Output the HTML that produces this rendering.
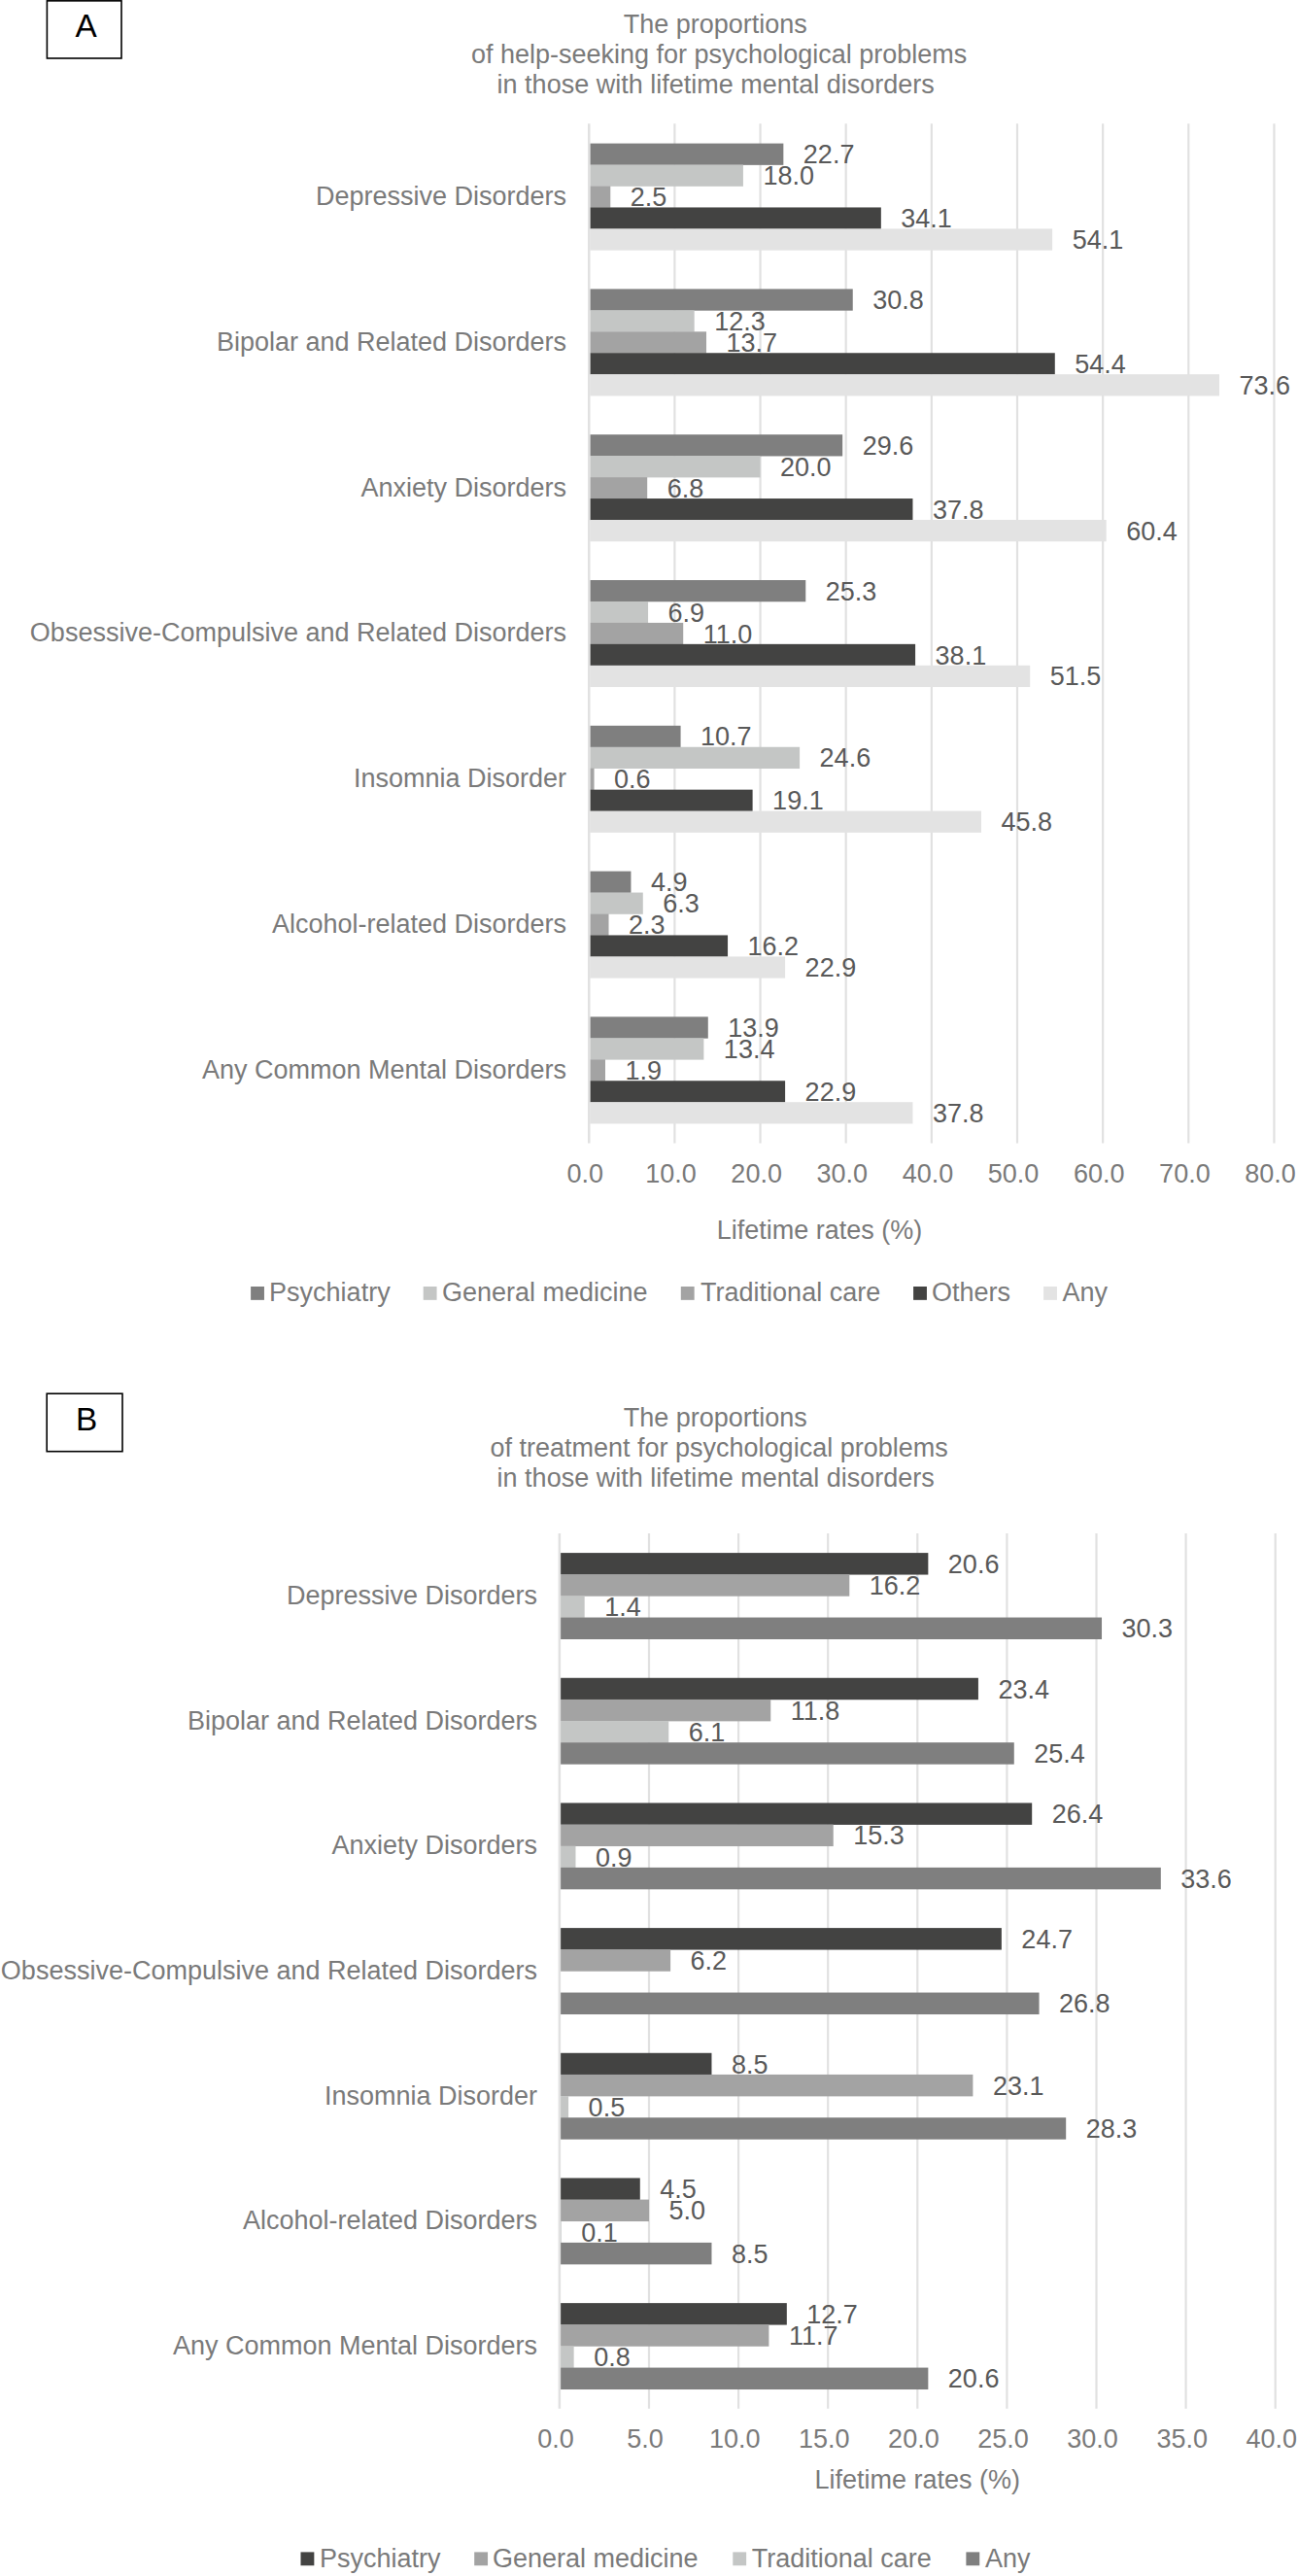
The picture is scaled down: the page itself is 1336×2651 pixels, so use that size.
<!DOCTYPE html>
<html lang="en">
<head>
<meta charset="utf-8">
<title>Help-seeking and treatment proportions</title>
<style>
html,body{margin:0;padding:0;background:#fff;}
body{width:1336px;height:2651px;overflow:hidden;}
svg{display:block;}
svg text{font-family:"Liberation Sans",sans-serif;font-size:27px;}
</style>
</head>
<body>
<svg width="1336" height="2651" viewBox="0 0 1336 2651">
<rect x="0" y="0" width="1336" height="2651" fill="#ffffff"/>
<rect x="48.4" y="0.85" width="76.6" height="59.15" fill="#fff" stroke="#000" stroke-width="1.6"/>
<text x="88.6" y="37.9" text-anchor="middle" fill="#000" style="font-size:33.33px">A</text>
<text x="736.3" y="34.2" text-anchor="middle" fill="#7a7a7a">The proportions</text>
<text x="740.1" y="65.2" text-anchor="middle" fill="#7a7a7a">of help-seeking for psychological problems</text>
<text x="736.7" y="96.2" text-anchor="middle" fill="#7a7a7a">in those with lifetime mental disorders</text>
<line x1="694.4" y1="127.3" x2="694.4" y2="1176.4" stroke="#e1e1e1" stroke-width="2.2"/>
<line x1="782.55" y1="127.3" x2="782.55" y2="1176.4" stroke="#e1e1e1" stroke-width="2.2"/>
<line x1="870.7" y1="127.3" x2="870.7" y2="1176.4" stroke="#e1e1e1" stroke-width="2.2"/>
<line x1="958.85" y1="127.3" x2="958.85" y2="1176.4" stroke="#e1e1e1" stroke-width="2.2"/>
<line x1="1047" y1="127.3" x2="1047" y2="1176.4" stroke="#e1e1e1" stroke-width="2.2"/>
<line x1="1135.15" y1="127.3" x2="1135.15" y2="1176.4" stroke="#e1e1e1" stroke-width="2.2"/>
<line x1="1223.3" y1="127.3" x2="1223.3" y2="1176.4" stroke="#e1e1e1" stroke-width="2.2"/>
<line x1="1311.45" y1="127.3" x2="1311.45" y2="1176.4" stroke="#e1e1e1" stroke-width="2.2"/>
<g class="dl"><text x="826.85" y="168.27" fill="#595959">22.7</text><text x="785.42" y="190.22" fill="#595959">18.0</text><text x="648.79" y="212.17" fill="#595959">2.5</text><text x="927.34" y="234.12" fill="#595959">34.1</text><text x="1103.64" y="256.07" fill="#595959">54.1</text><text x="898.25" y="318.07" fill="#595959">30.8</text><text x="735.17" y="340.02" fill="#595959">12.3</text><text x="747.52" y="361.97" fill="#595959">13.7</text><text x="1106.29" y="383.93" fill="#595959">54.4</text><text x="1275.53" y="405.88" fill="#595959">73.6</text><text x="887.67" y="467.88" fill="#595959">29.6</text><text x="803.05" y="489.83" fill="#595959">20.0</text><text x="686.69" y="511.78" fill="#595959">6.8</text><text x="959.96" y="533.73" fill="#595959">37.8</text><text x="1159.18" y="555.68" fill="#595959">60.4</text><text x="849.77" y="617.68" fill="#595959">25.3</text><text x="687.57" y="639.63" fill="#595959">6.9</text><text x="723.72" y="661.58" fill="#595959">11.0</text><text x="962.6" y="683.53" fill="#595959">38.1</text><text x="1080.72" y="705.48" fill="#595959">51.5</text><text x="721.07" y="767.48" fill="#595959">10.7</text><text x="843.6" y="789.43" fill="#595959">24.6</text><text x="632.04" y="811.38" fill="#595959">0.6</text><text x="795.12" y="833.33" fill="#595959">19.1</text><text x="1030.48" y="855.28" fill="#595959">45.8</text><text x="669.94" y="917.28" fill="#595959">4.9</text><text x="682.28" y="939.23" fill="#595959">6.3</text><text x="647.02" y="961.18" fill="#595959">2.3</text><text x="769.55" y="983.13" fill="#595959">16.2</text><text x="828.61" y="1005.08" fill="#595959">22.9</text><text x="749.28" y="1067.08" fill="#595959">13.9</text><text x="744.87" y="1089.03" fill="#595959">13.4</text><text x="643.5" y="1110.98" fill="#595959">1.9</text><text x="828.61" y="1132.92" fill="#595959">22.9</text><text x="959.96" y="1154.88" fill="#595959">37.8</text></g>
<g><rect x="607.25" y="147.6" width="199.1" height="22.25" fill="#7f7f7f"/><rect x="607.25" y="169.55" width="157.67" height="22.25" fill="#c4c6c5"/><rect x="607.25" y="191.5" width="21.04" height="22.25" fill="#a3a3a3"/><rect x="607.25" y="213.45" width="299.59" height="22.25" fill="#434342"/><rect x="607.25" y="235.4" width="475.89" height="22.25" fill="#e3e3e3"/><rect x="607.25" y="297.4" width="270.5" height="22.25" fill="#7f7f7f"/><rect x="607.25" y="319.35" width="107.42" height="22.25" fill="#c4c6c5"/><rect x="607.25" y="341.3" width="119.77" height="22.25" fill="#a3a3a3"/><rect x="607.25" y="363.25" width="478.54" height="22.25" fill="#434342"/><rect x="607.25" y="385.2" width="647.78" height="22.25" fill="#e3e3e3"/><rect x="607.25" y="447.2" width="259.92" height="22.25" fill="#7f7f7f"/><rect x="607.25" y="469.15" width="175.3" height="22.25" fill="#c4c6c5"/><rect x="607.25" y="491.1" width="58.94" height="22.25" fill="#a3a3a3"/><rect x="607.25" y="513.05" width="332.21" height="22.25" fill="#434342"/><rect x="607.25" y="535" width="531.43" height="22.25" fill="#e3e3e3"/><rect x="607.25" y="597" width="222.02" height="22.25" fill="#7f7f7f"/><rect x="607.25" y="618.95" width="59.82" height="22.25" fill="#c4c6c5"/><rect x="607.25" y="640.9" width="95.97" height="22.25" fill="#a3a3a3"/><rect x="607.25" y="662.85" width="334.85" height="22.25" fill="#434342"/><rect x="607.25" y="684.8" width="452.97" height="22.25" fill="#e3e3e3"/><rect x="607.25" y="746.8" width="93.32" height="22.25" fill="#7f7f7f"/><rect x="607.25" y="768.75" width="215.85" height="22.25" fill="#c4c6c5"/><rect x="607.25" y="790.7" width="4.29" height="22.25" fill="#a3a3a3"/><rect x="607.25" y="812.65" width="167.37" height="22.25" fill="#434342"/><rect x="607.25" y="834.6" width="402.73" height="22.25" fill="#e3e3e3"/><rect x="607.25" y="896.6" width="42.19" height="22.25" fill="#7f7f7f"/><rect x="607.25" y="918.55" width="54.53" height="22.25" fill="#c4c6c5"/><rect x="607.25" y="940.5" width="19.27" height="22.25" fill="#a3a3a3"/><rect x="607.25" y="962.45" width="141.8" height="22.25" fill="#434342"/><rect x="607.25" y="984.4" width="200.86" height="22.25" fill="#e3e3e3"/><rect x="607.25" y="1046.4" width="121.53" height="22.25" fill="#7f7f7f"/><rect x="607.25" y="1068.35" width="117.12" height="22.25" fill="#c4c6c5"/><rect x="607.25" y="1090.3" width="15.75" height="22.25" fill="#a3a3a3"/><rect x="607.25" y="1112.25" width="200.86" height="22.25" fill="#434342"/><rect x="607.25" y="1134.2" width="332.21" height="22.25" fill="#e3e3e3"/></g>
<line x1="606.25" y1="127.3" x2="606.25" y2="1176.4" stroke="#e1e1e1" stroke-width="2.5"/>
<text x="583.1" y="211.07" text-anchor="end" fill="#7a7a7a">Depressive Disorders</text>
<text x="583.1" y="360.88" text-anchor="end" fill="#7a7a7a">Bipolar and Related Disorders</text>
<text x="583.1" y="510.68" text-anchor="end" fill="#7a7a7a">Anxiety Disorders</text>
<text x="583.1" y="660.48" text-anchor="end" fill="#7a7a7a">Obsessive-Compulsive and Related Disorders</text>
<text x="583.1" y="810.28" text-anchor="end" fill="#7a7a7a">Insomnia Disorder</text>
<text x="583.1" y="960.08" text-anchor="end" fill="#7a7a7a">Alcohol-related Disorders</text>
<text x="583.1" y="1109.88" text-anchor="end" fill="#7a7a7a">Any Common Mental Disorders</text>
<text x="602.35" y="1216.5" text-anchor="middle" fill="#7a7a7a">0.0</text>
<text x="690.5" y="1216.5" text-anchor="middle" fill="#7a7a7a">10.0</text>
<text x="778.65" y="1216.5" text-anchor="middle" fill="#7a7a7a">20.0</text>
<text x="866.8" y="1216.5" text-anchor="middle" fill="#7a7a7a">30.0</text>
<text x="954.95" y="1216.5" text-anchor="middle" fill="#7a7a7a">40.0</text>
<text x="1043.1" y="1216.5" text-anchor="middle" fill="#7a7a7a">50.0</text>
<text x="1131.25" y="1216.5" text-anchor="middle" fill="#7a7a7a">60.0</text>
<text x="1219.4" y="1216.5" text-anchor="middle" fill="#7a7a7a">70.0</text>
<text x="1307.55" y="1216.5" text-anchor="middle" fill="#7a7a7a">80.0</text>
<text x="843.5" y="1274.8" text-anchor="middle" fill="#7a7a7a">Lifetime rates (%)</text>
<rect x="258.1" y="1324" width="13.85" height="13.85" fill="#7f7f7f"/>
<text x="277.1" y="1339.3" fill="#7a7a7a">Psychiatry</text>
<rect x="435.7" y="1324" width="13.85" height="13.85" fill="#c4c6c5"/>
<text x="454.9" y="1339.3" fill="#7a7a7a">General medicine</text>
<rect x="700.8" y="1324" width="13.85" height="13.85" fill="#a3a3a3"/>
<text x="721.1" y="1339.3" fill="#7a7a7a">Traditional care</text>
<rect x="940.1" y="1324" width="13.85" height="13.85" fill="#434342"/>
<text x="958.9" y="1339.3" fill="#7a7a7a">Others</text>
<rect x="1074.1" y="1324" width="13.85" height="13.85" fill="#e3e3e3"/>
<text x="1093.4" y="1339.3" fill="#7a7a7a">Any</text>
<rect x="48.2" y="1434.2" width="77.8" height="59.5" fill="#fff" stroke="#000" stroke-width="1.6"/>
<text x="89.2" y="1471.5" text-anchor="middle" fill="#000" style="font-size:33.33px">B</text>
<text x="736.3" y="1467.5" text-anchor="middle" fill="#7a7a7a">The proportions</text>
<text x="740.1" y="1498.5" text-anchor="middle" fill="#7a7a7a">of treatment for psychological problems</text>
<text x="736.7" y="1529.5" text-anchor="middle" fill="#7a7a7a">in those with lifetime mental disorders</text>
<line x1="668" y1="1578" x2="668" y2="2478.8" stroke="#e1e1e1" stroke-width="2.2"/>
<line x1="760.1" y1="1578" x2="760.1" y2="2478.8" stroke="#e1e1e1" stroke-width="2.2"/>
<line x1="852.2" y1="1578" x2="852.2" y2="2478.8" stroke="#e1e1e1" stroke-width="2.2"/>
<line x1="944.3" y1="1578" x2="944.3" y2="2478.8" stroke="#e1e1e1" stroke-width="2.2"/>
<line x1="1036.4" y1="1578" x2="1036.4" y2="2478.8" stroke="#e1e1e1" stroke-width="2.2"/>
<line x1="1128.5" y1="1578" x2="1128.5" y2="2478.8" stroke="#e1e1e1" stroke-width="2.2"/>
<line x1="1220.6" y1="1578" x2="1220.6" y2="2478.8" stroke="#e1e1e1" stroke-width="2.2"/>
<line x1="1312.7" y1="1578" x2="1312.7" y2="2478.8" stroke="#e1e1e1" stroke-width="2.2"/>
<g class="dl"><text x="975.85" y="1618.88" fill="#595959">20.6</text><text x="894.8" y="1641.03" fill="#595959">16.2</text><text x="622.19" y="1663.17" fill="#595959">1.4</text><text x="1154.53" y="1685.33" fill="#595959">30.3</text><text x="1027.43" y="1747.55" fill="#595959">23.4</text><text x="813.76" y="1769.7" fill="#595959">11.8</text><text x="708.76" y="1791.85" fill="#595959">6.1</text><text x="1064.27" y="1814" fill="#595959">25.4</text><text x="1082.69" y="1876.21" fill="#595959">26.4</text><text x="878.23" y="1898.37" fill="#595959">15.3</text><text x="612.98" y="1920.51" fill="#595959">0.9</text><text x="1215.31" y="1942.66" fill="#595959">33.6</text><text x="1051.37" y="2004.88" fill="#595959">24.7</text><text x="710.6" y="2027.04" fill="#595959">6.2</text><text x="1090.06" y="2071.33" fill="#595959">26.8</text><text x="752.97" y="2133.55" fill="#595959">8.5</text><text x="1021.9" y="2155.7" fill="#595959">23.1</text><text x="605.61" y="2177.85" fill="#595959">0.5</text><text x="1117.69" y="2200" fill="#595959">28.3</text><text x="679.29" y="2262.22" fill="#595959">4.5</text><text x="688.5" y="2284.37" fill="#595959">5.0</text><text x="598.24" y="2306.52" fill="#595959">0.1</text><text x="752.97" y="2328.67" fill="#595959">8.5</text><text x="830.33" y="2390.89" fill="#595959">12.7</text><text x="811.91" y="2413.04" fill="#595959">11.7</text><text x="611.14" y="2435.19" fill="#595959">0.8</text><text x="975.85" y="2457.34" fill="#595959">20.6</text></g>
<g><rect x="576.9" y="1598.1" width="378.45" height="22.45" fill="#434342"/><rect x="576.9" y="1620.25" width="297.4" height="22.45" fill="#a3a3a3"/><rect x="576.9" y="1642.4" width="24.79" height="22.45" fill="#c4c6c5"/><rect x="576.9" y="1664.55" width="557.13" height="22.45" fill="#7f7f7f"/><rect x="576.9" y="1726.77" width="430.03" height="22.45" fill="#434342"/><rect x="576.9" y="1748.92" width="216.36" height="22.45" fill="#a3a3a3"/><rect x="576.9" y="1771.07" width="111.36" height="22.45" fill="#c4c6c5"/><rect x="576.9" y="1793.22" width="466.87" height="22.45" fill="#7f7f7f"/><rect x="576.9" y="1855.44" width="485.29" height="22.45" fill="#434342"/><rect x="576.9" y="1877.59" width="280.83" height="22.45" fill="#a3a3a3"/><rect x="576.9" y="1899.74" width="15.58" height="22.45" fill="#c4c6c5"/><rect x="576.9" y="1921.89" width="617.91" height="22.45" fill="#7f7f7f"/><rect x="576.9" y="1984.11" width="453.97" height="22.45" fill="#434342"/><rect x="576.9" y="2006.26" width="113.2" height="22.45" fill="#a3a3a3"/><rect x="576.9" y="2050.56" width="492.66" height="22.45" fill="#7f7f7f"/><rect x="576.9" y="2112.78" width="155.57" height="22.45" fill="#434342"/><rect x="576.9" y="2134.93" width="424.5" height="22.45" fill="#a3a3a3"/><rect x="576.9" y="2157.08" width="8.21" height="22.45" fill="#c4c6c5"/><rect x="576.9" y="2179.23" width="520.29" height="22.45" fill="#7f7f7f"/><rect x="576.9" y="2241.45" width="81.89" height="22.45" fill="#434342"/><rect x="576.9" y="2263.6" width="91.1" height="22.45" fill="#a3a3a3"/><rect x="576.9" y="2285.75" width="0.84" height="22.45" fill="#c4c6c5"/><rect x="576.9" y="2307.9" width="155.57" height="22.45" fill="#7f7f7f"/><rect x="576.9" y="2370.12" width="232.93" height="22.45" fill="#434342"/><rect x="576.9" y="2392.27" width="214.51" height="22.45" fill="#a3a3a3"/><rect x="576.9" y="2414.42" width="13.74" height="22.45" fill="#c4c6c5"/><rect x="576.9" y="2436.57" width="378.45" height="22.45" fill="#7f7f7f"/></g>
<line x1="575.9" y1="1578" x2="575.9" y2="2478.8" stroke="#e1e1e1" stroke-width="2.5"/>
<text x="553.1" y="1651" text-anchor="end" fill="#7a7a7a">Depressive Disorders</text>
<text x="553.1" y="1779.67" text-anchor="end" fill="#7a7a7a">Bipolar and Related Disorders</text>
<text x="553.1" y="1908.34" text-anchor="end" fill="#7a7a7a">Anxiety Disorders</text>
<text x="553.1" y="2037.01" text-anchor="end" fill="#7a7a7a">Obsessive-Compulsive and Related Disorders</text>
<text x="553.1" y="2165.68" text-anchor="end" fill="#7a7a7a">Insomnia Disorder</text>
<text x="553.1" y="2294.35" text-anchor="end" fill="#7a7a7a">Alcohol-related Disorders</text>
<text x="553.1" y="2423.02" text-anchor="end" fill="#7a7a7a">Any Common Mental Disorders</text>
<text x="572" y="2518.9" text-anchor="middle" fill="#7a7a7a">0.0</text>
<text x="664.1" y="2518.9" text-anchor="middle" fill="#7a7a7a">5.0</text>
<text x="756.2" y="2518.9" text-anchor="middle" fill="#7a7a7a">10.0</text>
<text x="848.3" y="2518.9" text-anchor="middle" fill="#7a7a7a">15.0</text>
<text x="940.4" y="2518.9" text-anchor="middle" fill="#7a7a7a">20.0</text>
<text x="1032.5" y="2518.9" text-anchor="middle" fill="#7a7a7a">25.0</text>
<text x="1124.6" y="2518.9" text-anchor="middle" fill="#7a7a7a">30.0</text>
<text x="1216.7" y="2518.9" text-anchor="middle" fill="#7a7a7a">35.0</text>
<text x="1308.8" y="2518.9" text-anchor="middle" fill="#7a7a7a">40.0</text>
<text x="944.3" y="2561" text-anchor="middle" fill="#7a7a7a">Lifetime rates (%)</text>
<rect x="309.5" y="2626.4" width="13.85" height="13.85" fill="#434342"/>
<text x="328.9" y="2642.3" fill="#7a7a7a">Psychiatry</text>
<rect x="488.2" y="2626.4" width="13.85" height="13.85" fill="#a3a3a3"/>
<text x="507" y="2642.3" fill="#7a7a7a">General medicine</text>
<rect x="754.3" y="2626.4" width="13.85" height="13.85" fill="#c4c6c5"/>
<text x="773.7" y="2642.3" fill="#7a7a7a">Traditional care</text>
<rect x="994.4" y="2626.4" width="13.85" height="13.85" fill="#7f7f7f"/>
<text x="1013.9" y="2642.3" fill="#7a7a7a">Any</text>
</svg>
</body>
</html>
